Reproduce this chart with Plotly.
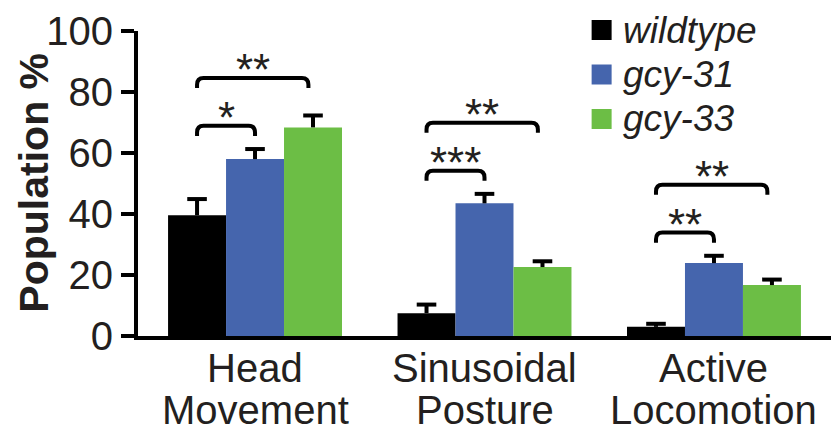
import plotly.graph_objects as go

# Behaviour categories (two-line labels) and genotype series
categories = ["Head Movement", "Sinusoidal Posture", "Active Locomotion"]
category_lines = [("Head", "Movement"), ("Sinusoidal", "Posture"), ("Active", "Locomotion")]
series_names = ["wildtype", "gcy-31", "gcy-33"]

wildtype = [39.6, 7.5, 3.0]
gcy31 = [58.0, 43.5, 23.9]
gcy33 = [68.4, 22.6, 16.7]

wildtype_err = [5.3, 2.8, 1.0]
gcy31_err = [3.3, 3.1, 2.4]
gcy33_err = [3.9, 1.9, 1.8]

y_ticks = [0, 20, 40, 60, 80, 100]

# Significance of each mutant vs wildtype, per category: (gcy-31, gcy-33)
significance = [("*", "**"), ("***", "**"), ("**", "**")]

colors = ["#000000", "#4565ad", "#6cbe45"]
text_color = "#231f20"
font_family = "Liberation Sans, Arial, Helvetica, sans-serif"

values = [wildtype, gcy31, gcy33]
errors = [wildtype_err, gcy31_err, gcy33_err]

BARGAP = 0.242
bar_w = (1 - BARGAP) / 3
x_idx = list(range(len(categories)))

fig = go.Figure()
for name, vals, errs, col in zip(series_names, values, errors, colors):
    # bar with an upward error stem (no cross-bars)
    fig.add_trace(go.Bar(
        x=x_idx, y=vals, name=name,
        marker=dict(color=col, line=dict(width=0)),
        error_y=dict(type="data", array=errs, symmetric=False,
                     arrayminus=[0] * len(errs),
                     color="#000000", thickness=4, width=0),
        showlegend=False,
    ))

# Top cross-bar of each error bar
for s, (vals, errs) in enumerate(zip(values, errors)):
    fig.add_trace(go.Scatter(
        x=[i + (s - 1) * bar_w for i in x_idx],
        y=[v + e for v, e in zip(vals, errs)],
        mode="markers",
        marker=dict(symbol="line-ew", size=14,
                    line=dict(color="#000000", width=4)),
        showlegend=False, hoverinfo="skip",
    ))

shapes = []
annotations = []

# Significance brackets from wildtype to each mutant
for ci, sigs in enumerate(significance):
    tops = [values[s][ci] + errors[s][ci] for s in range(3)]
    level1 = max(tops[0], tops[1]) + 7.6
    level2 = level1 + 15.7
    for k, (label, level) in enumerate(zip(sigs, (level1, level2))):
        target = k + 1
        x1 = ci - bar_w
        x2 = ci + (target - 1) * bar_w
        if target == 2:
            x2 -= 0.02
        rx, ry, drop = 0.028, 2.2, 3.3
        path = (f"M {x1},{level - drop} L {x1},{level - ry} "
                f"Q {x1},{level} {x1 + rx},{level} "
                f"L {x2 - rx},{level} Q {x2},{level} {x2},{level - ry} "
                f"L {x2},{level - drop}")
        shapes.append(dict(type="path", path=path, xref="x", yref="y",
                           line=dict(color="#000000", width=4)))
        annotations.append(dict(
            x=(x1 + x2) / 2, y=level, xref="x", yref="y",
            text=label, showarrow=False, yanchor="middle", yshift=8,
            font=dict(size=44, color=text_color, family=font_family)))

# Two-line category labels under the axis
for ci, (l1, l2) in enumerate(category_lines):
    for li, line in enumerate((l1, l2)):
        annotations.append(dict(
            x=ci, y=0, xref="x", yref="paper", text=line, showarrow=False,
            yanchor="top", yshift=-8 - 42 * li,
            font=dict(size=40, color=text_color, family=font_family)))

# Y axis title
annotations.append(dict(
    x=-0.150, y=0.503, xref="paper", yref="paper", text="<b>Population %</b>",
    showarrow=False, textangle=-90, xanchor="center", yanchor="middle",
    font=dict(size=41, color=text_color, family=font_family)))

# Legend: coloured squares with italic names
for i, (name, col) in enumerate(zip(series_names, colors)):
    row_y = 1 + (1 - 44.5 * i) / 305
    shapes.append(dict(type="rect", xref="paper", yref="paper",
                       xsizemode="pixel", ysizemode="pixel",
                       xanchor=0.669, yanchor=row_y,
                       x0=-10, x1=10, y0=-10, y1=10,
                       fillcolor=col, line=dict(width=0)))
    annotations.append(dict(
        x=0.697, y=row_y, xref="paper", yref="paper", text=f"<i>{name}</i>",
        showarrow=False, xanchor="left", yanchor="middle",
        font=dict(size=37, color=text_color, family=font_family)))

fig.update_layout(
    width=831, height=433,
    margin=dict(l=138, r=0, t=31, b=97, pad=0),
    paper_bgcolor="white", plot_bgcolor="white",
    barmode="group", bargap=BARGAP, bargroupgap=0,
    shapes=shapes, annotations=annotations,
    xaxis=dict(range=[-0.51, 2.51], showline=True, linecolor="#000000",
               linewidth=4, showticklabels=False, ticks="",
               showgrid=False, zeroline=False, fixedrange=True),
    yaxis=dict(range=[0, 100], tickvals=y_ticks, showline=True,
               linecolor="#000000", linewidth=4, ticks="outside",
               ticklen=13, tickwidth=4, tickcolor="#000000",
               tickfont=dict(size=40, color=text_color, family=font_family),
               showgrid=False, zeroline=False, fixedrange=True),
)

fig.write_html("out.html")
